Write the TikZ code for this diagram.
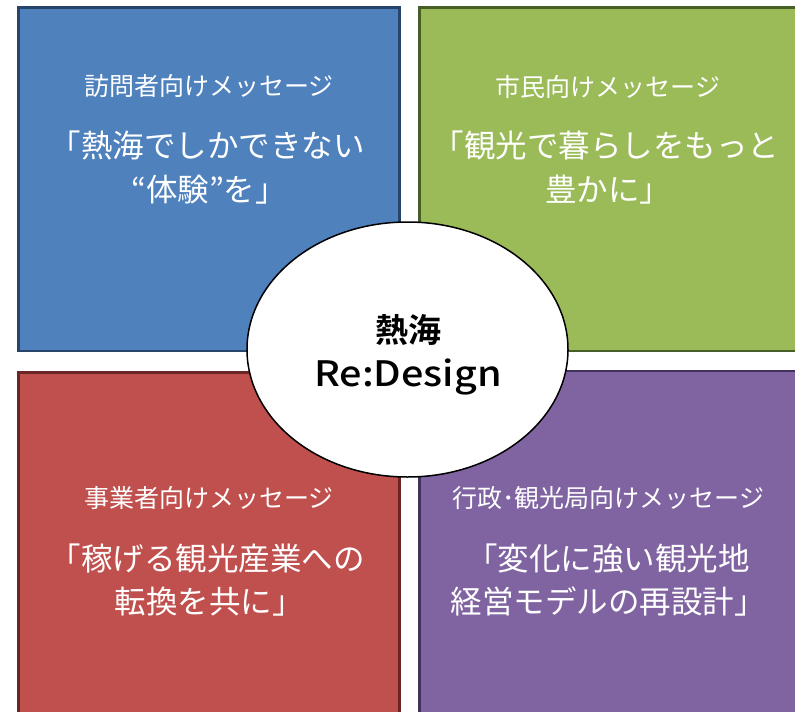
\documentclass[tikz,border=0pt]{standalone}
\usepackage{fontspec}
\newfontfamily\jp{Noto Sans CJK JP}
\newfontfamily\jpb{Noto Sans CJK JP Bold}
\newfontfamily\jpm{Noto Sans CJK JP Medium}
\definecolor{qblue}{HTML}{4F81BD}
\definecolor{qbluel}{HTML}{27446A}
\definecolor{qgreen}{HTML}{9BBB59}
\definecolor{qgreenl}{HTML}{485E28}
\definecolor{qred}{HTML}{C0504D}
\definecolor{qredl}{HTML}{6A2624}
\definecolor{qpurple}{HTML}{8064A2}
\definecolor{qpurplel}{HTML}{40325A}
\tikzset{
  quad/.style={line width=2.5pt},
  sub/.style={anchor=base, text=white, inner sep=0pt, font=\jp\fontsize{25pt}{25pt}\selectfont},
  msg/.style={anchor=base, text=white, inner sep=0pt, font=\jp\fontsize{31.5pt}{31.5pt}\selectfont},
}
\begin{document}
\begin{tikzpicture}[x=1pt,y=-1pt]
\useasboundingbox (0,0) rectangle (795,712);
\clip (0,0) rectangle (795,712);
\fill[white] (0,0) rectangle (795,712);
% quadrants
\draw[quad, fill=qblue, draw=qbluel] (18.5,7.5) rectangle (399.5,351);
\draw[quad, fill=qgreen, draw=qgreenl] (419.5,7.5) rectangle (805,351);
\draw[quad, fill=qred, draw=qredl] (18.5,372.5) rectangle (399.5,725);
\draw[quad, fill=qpurple, draw=qpurplel] (419.5,371) rectangle (805,725);
% blue texts
\node[sub] (bsub) at (209,95) {訪問者向けメッセージ};
\node[msg] (bl1) at (207,157) {「熱海でしかできない};
\node[msg] (bl2) at (209,201) {“体験”を」};
% green texts
\node[sub] (gsub) at (608,96) {市民向けメッセージ};
\node[msg] (gl1) at (606,157) {「観光で暮らしをもっと};
\node[msg] (gl2) at (608,201) {豊かに」};
% red texts
\node[sub] (rsub) at (209,507) {事業者向けメッセージ};
\node[msg] (rl1) at (207,570) {「稼げる観光産業への};
\node[msg] (rl2) at (209,613) {転換を共に」};
% purple texts
\node[sub] (psub) at (608,507) {行政･観光局向けメッセージ};
\node[msg] (pl1) at (608,570) {「変化に強い観光地};
\node[msg] (pl2) at (608,613) {経営モデルの再設計」};
% center ellipse
\draw[line width=1.5pt, fill=white] (407.5,349.5) ellipse [x radius=160.5, y radius=127.5];
\node[anchor=base, inner sep=0pt, font=\jpb\fontsize{33pt}{33pt}\selectfont] (ct1) at (408,342) {熱海};
\node[anchor=base, inner sep=0pt, font=\jpm\fontsize{35pt}{35pt}\selectfont] (ct2) at (408,386) {\scalebox{1.13}[1]{Re:Design}};
\end{tikzpicture}
\end{document}
